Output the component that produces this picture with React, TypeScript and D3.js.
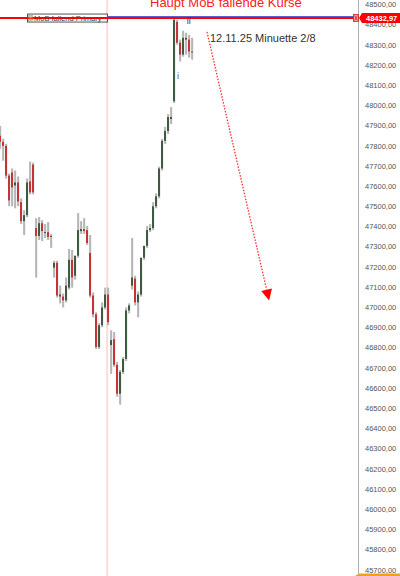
import React from "react";
import * as d3 from "d3";

const opens = [47850,47820,47800,47653,47668,47604,47619,47521,47427,47457,47624,47707,47393,47354,47417,47368,47373,47349,47197,47221,47054,47054,47035,47098,47236,47157,47256,47378,47388,47383,47270,47059,46966,46804,46912,47000,47064,46814,46843,46716,46573,46681,46745,46985,47108,47143,47025,47064,47246,47305,47383,47393,47501,47550,47688,47825,47874,47933,48021,48414,48311,48252,48326,48326,48267];
const highs = [47899,47835,47810,47663,47688,47678,47648,47540,47481,47638,47722,47717,47442,47447,47432,47413,47422,47364,47231,47231,47108,47069,47148,47290,47285,47256,47467,47427,47442,47403,47359,47074,46976,46922,47025,47098,47098,46887,46878,46730,46691,46755,47000,47020,47344,47157,47079,47246,47305,47403,47413,47521,47565,47697,47835,47894,47957,47992,48429,48424,48326,48370,48360,48350,48335];
const lows = [47786,47727,47638,47501,47501,47491,47501,47413,47359,47447,47560,47560,47148,47334,47329,47344,47334,47295,47148,47049,47020,47000,47025,47089,47098,47138,47246,47364,47364,47310,47049,46951,46794,46794,46902,46990,46912,46671,46706,46558,46519,46671,46735,46971,47089,47010,46951,47054,47236,47295,47373,47383,47491,47540,47678,47810,47859,47908,48012,48301,48218,48242,48252,48237,48227];
const closes = [47820,47800,47653,47530,47594,47619,47525,47427,47457,47619,47570,47570,47354,47417,47378,47373,47349,47354,47221,47059,47064,47035,47108,47236,47148,47256,47383,47388,47378,47319,47059,46966,46804,46912,47000,47064,46927,46838,46716,46573,46681,46745,46985,47010,47148,47025,47064,47246,47305,47383,47393,47501,47550,47688,47825,47874,47943,47943,48424,48311,48252,48335,48335,48267,48262];

const yTicks = [48500,48400,48300,48200,48100,48000,47900,47800,47700,47600,47500,47400,47300,47200,47100,47000,46900,46800,46700,46600,46500,46400,46300,46200,46100,46000,45900,45800,45700];
const lastPrice = 48432.97;
const titleText = "Haupt MoB fallende Kurse";
const noteText = "12.11.25 Minuette 2/8";
const lineLabel = "MoB fallend Primary";
const waveTexts = ["i", "ii"];
const waveIdx = [59.3, 62.9];
const wavePrices = [48130, 48405];
const markerIdx = 35.7;
const arrowIdx = [69, 89.7];
const arrowPrices = [48364, 47035];

const W = 400;
const H = 576;
const axisX = 358;

export default function App() {
  const x = d3.scaleLinear().domain([0, 64]).range([0, 192]);
  const y = d3.scaleLinear().domain([45700, 48500]).range([570, 4.5]);
  const fmt = (v: number) => d3.format(".2f")(v).replace(".", ",");
  const candles = opens.map((o, i) => ({ o, h: highs[i], l: lows[i], c: closes[i], i }));

  const ax0 = x(arrowIdx[0]), ay0 = y(arrowPrices[0]);
  const ax1 = x(arrowIdx[1]), ay1 = y(arrowPrices[1]);
  const ang = Math.atan2(ay1 - ay0, ax1 - ax0);
  const len = 11, half = 5.5;
  const bx = ax1 - len * Math.cos(ang), by = ay1 - len * Math.sin(ang);
  const px = -Math.sin(ang), py = Math.cos(ang);
  const tri = `${ax1},${ay1} ${bx + px * half},${by + py * half} ${bx - px * half},${by - py * half}`;
  const ly = y(lastPrice);
  const font = "'Liberation Sans', Arial, sans-serif";

  return (
    <div style={{ position: "fixed", left: 0, top: 0, width: W, height: H, background: "#fff" }}>
      <svg width={W} height={H} style={{ display: "block" }} fontFamily={font}>
        <rect x={0} y={0} width={W} height={H} fill="#fff" />
        <line x1={x(markerIdx)} x2={x(markerIdx)} y1={0} y2={H} stroke="#ffd0d0" strokeWidth={1.5} />
        {candles.map((d) => {
          const cx = Math.round(x(d.i));
          const bull = d.c >= d.o;
          const top = y(Math.max(d.o, d.c));
          const bot = y(Math.min(d.o, d.c));
          return (
            <g key={d.i}>
              <line x1={cx + 0.5} x2={cx + 0.5} y1={y(d.h)} y2={y(d.l)} stroke="#e2e2e2" strokeWidth={2} />
              <line x1={cx} x2={cx} y1={y(d.h)} y2={y(d.l)} stroke="#8a8a8a" strokeWidth={1} />
              <rect x={cx - 1} y={top} width={2} height={Math.max(1, bot - top)} fill={bull ? "#3f5a40" : "#c43434"} />
            </g>
          );
        })}
        <line x1={x(markerIdx)} x2={axisX} y1={ly - 1.5} y2={ly - 1.5} stroke="#5a5ad0" strokeWidth={1} />
        <line x1={0} x2={axisX} y1={ly} y2={ly} stroke="#ff0000" strokeWidth={2} />
        <rect x={27.5} y={ly - 4} width={80} height={8} fill="none" stroke="#555" strokeWidth={1} />
        <rect x={28.5} y={ly - 3} width={4} height={6} fill="#d8c89a" stroke="#999" strokeWidth={0.5} />
        <text x={34} y={ly + 2.5} fontSize={7.5} fill="#444">{lineLabel}</text>
        <line x1={27} x2={108} y1={ly} y2={ly} stroke="#ff0000" strokeWidth={1.2} />
        <text x={150} y={7} fontSize={13} fill="#ff2020">{titleText}</text>
        <text x={210} y={42} fontSize={11} fill="#333">{noteText}</text>
        {waveTexts.map((t, k) => (
          <text key={t} x={x(waveIdx[k])} y={y(wavePrices[k])} fontSize={9} fill={k === 0 ? "#3a5aa8" : "#333355"} textAnchor="middle">{t}</text>
        ))}
        <line x1={ax0} y1={ay0} x2={bx} y2={by} stroke="#ff3030" strokeWidth={1.3} strokeDasharray="1.5,1.5" />
        <polygon points={tri} fill="#ff0000" />
        <line x1={axisX + 0.5} x2={axisX + 0.5} y1={0} y2={H} stroke="#b0b0b0" strokeWidth={1} />
        <polygon points={`355,${H} 359,${H - 2.5} ${W},${H - 2.5} ${W},${H + 6} 359,${H + 6}`} fill="#f0a020" />
        {yTicks.map((t) => (
          <text key={t} x={365} y={y(t)} dy="0.35em" fontSize={7.5} fill="#555">{fmt(t)}</text>
        ))}
        <rect x={353.5} y={ly - 3.5} width={5} height={7} fill="#f4a8a8" stroke="#cc2222" strokeWidth={0.8} />
        <path d={`M354.5,${ly - 2.5} L357.5,${ly + 2.5} M357.5,${ly - 2.5} L354.5,${ly + 2.5}`} stroke="#cc2222" strokeWidth={0.8} />
        <polygon points={`359,${ly} 362,${ly - 5} ${W},${ly - 5} ${W},${ly + 5} 362,${ly + 5}`} fill="#ff0000" />
        <text x={366} y={ly} dy="0.35em" fontSize={7.5} fontWeight="bold" fill="#fff">{fmt(lastPrice)}</text>
      </svg>
    </div>
  );
}
